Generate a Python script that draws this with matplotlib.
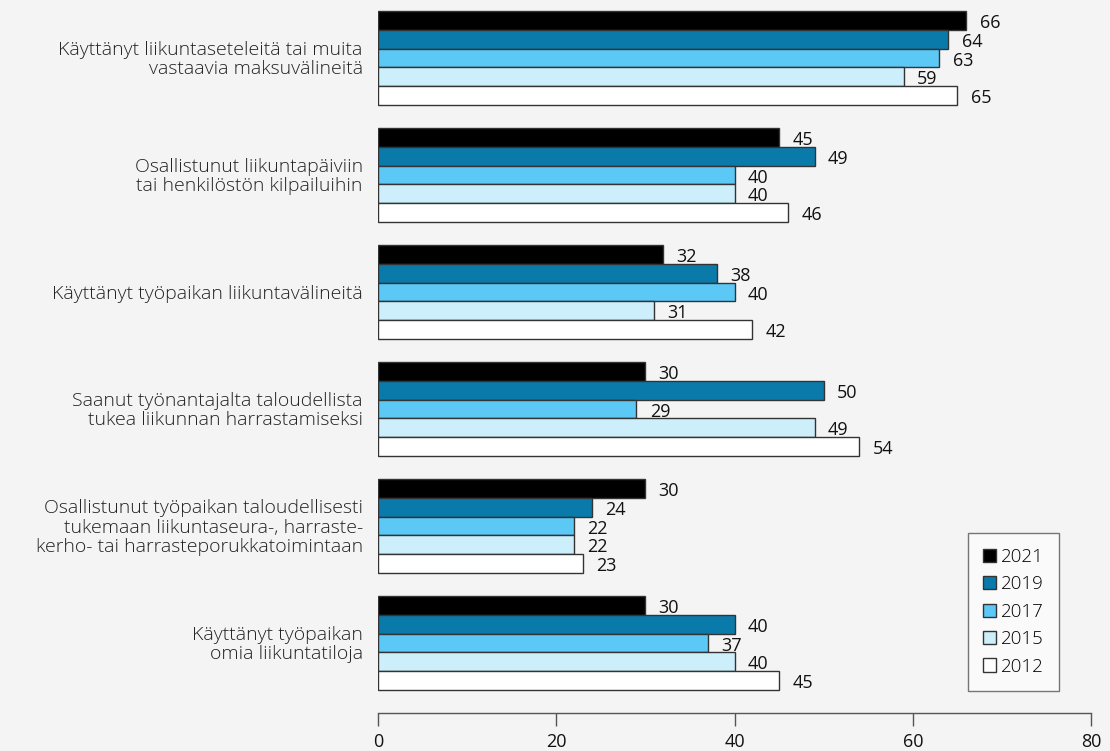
import matplotlib
matplotlib.use("Agg")
import matplotlib.pyplot as plt
from matplotlib.patches import Patch

plt.rcParams['font.family'] = ['Open Sans', 'DejaVu Sans']

categories = [
    "Käyttänyt liikuntaseteleitä tai muita\nvastaavia maksuvälineitä",
    "Osallistunut liikuntapäiviin\ntai henkilöstön kilpailuihin",
    "Käyttänyt työpaikan liikuntavälineitä",
    "Saanut työnantajalta taloudellista\ntukea liikunnan harrastamiseksi",
    "Osallistunut työpaikan taloudellisesti\ntukemaan liikuntaseura-, harraste-\nkerho- tai harrasteporukkatoimintaan",
    "Käyttänyt työpaikan\nomia liikuntatiloja",
]
years = ["2021", "2019", "2017", "2015", "2012"]
values_2021 = [66, 45, 32, 30, 30, 30]
values_2019 = [64, 49, 38, 50, 24, 40]
values_2017 = [63, 40, 40, 29, 22, 37]
values_2015 = [59, 40, 31, 49, 22, 40]
values_2012 = [65, 46, 42, 54, 23, 45]
series = [values_2021, values_2019, values_2017, values_2015, values_2012]
colors = ["#000000", "#0a7aab", "#5bc8f5", "#cdeefb", "#ffffff"]
xticks = [0, 20, 40, 60, 80]

bg = "#f4f4f4"
edge = "#333333"

W, H = 1110, 751
fig = plt.figure(figsize=(W / 100, H / 100), dpi=100, facecolor=bg)
ax = fig.add_axes([378 / W, (H - 713) / H, 713 / W, 713 / H], facecolor=bg)

group_step = 6.24
for j, (vals, col) in enumerate(zip(series, colors)):
    ys = [k * group_step + j for k in range(len(categories))]
    ax.barh(ys, vals, height=1.0, color=col, edgecolor=edge, linewidth=1.0)
    for y, v in zip(ys, vals):
        ax.text(v + 1.5, y + 0.15, str(v), va="center", ha="left",
                fontsize=13, color="#111111")

for k, cat in enumerate(categories):
    ax.text(-1.7, k * group_step + 2.1, cat, ha="right", va="center",
            fontsize=14, fontweight="light", color="#222222",
            linespacing=1.1)

ax.set_xlim(0, 80)
ax.set_ylim(36.94, -1.087)
ax.set_yticks([])
ax.set_xticks(xticks)
ax.set_xticklabels([str(t) for t in xticks], fontsize=13)
ax.tick_params(axis="x", direction="out", length=9, width=1, color="#555555",
               pad=5.5, labelcolor="#111111")
for s in ["top", "right", "left"]:
    ax.spines[s].set_visible(False)
ax.spines["bottom"].set_color("#555555")
ax.spines["bottom"].set_linewidth(1)

handles = [Patch(facecolor=c, edgecolor=edge, linewidth=1.0) for c in colors]
leg = fig.legend(handles, years, loc="upper left",
                 bbox_to_anchor=(968 / W, 1 - 533 / H), frameon=True,
                 prop={"size": 13.5, "weight": "light"},
                 handlelength=0.7, handleheight=0.7,
                 handletextpad=0.25, labelspacing=0.5, borderpad=0.8,
                 borderaxespad=0, fancybox=False)
leg.get_frame().set_edgecolor("#555555")
leg.get_frame().set_facecolor("#fcfcfc")
leg.get_frame().set_linewidth(1)

fig.savefig("out.png", dpi=100, facecolor=bg)
